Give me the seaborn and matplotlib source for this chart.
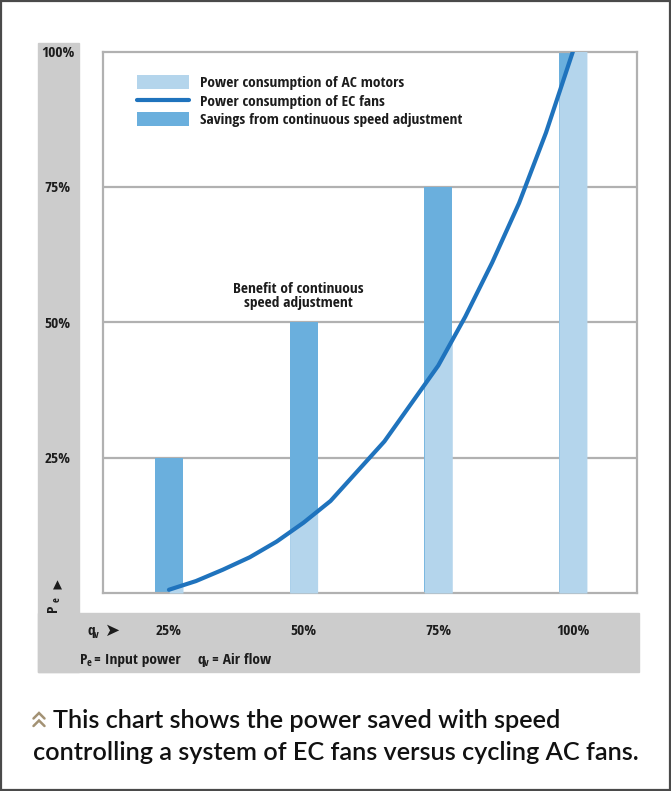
import numpy as np
import pandas as pd
import seaborn as sns
import matplotlib
matplotlib.use("Agg")
import matplotlib.pyplot as plt
from matplotlib import font_manager
from matplotlib.font_manager import FontProperties
from matplotlib.textpath import TextPath
from matplotlib.patches import Rectangle, Patch
from matplotlib.lines import Line2D

# ---- data -------------------------------------------------------------
flow_steps = [25, 50, 75, 100]            # air flow q_v (%)
ac_power = [25, 50, 75, 100]              # AC motor consumption at each step (%)
flow_labels = ["25%", "50%", "75%", "100%"]

ec_flow = [25, 30, 35, 40, 45, 50, 55, 60, 65, 70, 75, 80, 85, 90, 95, 100, 103]   # q_v (%)
ec_power = [0.6, 2.2, 4.3, 6.6, 9.5, 13, 17, 22.5, 28, 35, 42, 51, 61, 72, 85, 100, 108]

power_ticks = [25, 50, 75, 100]
power_labels = ["25%", "50%", "75%", "100%"]

legend_labels = ["Power consumption of AC motors",
                 "Power consumption of EC fans",
                 "Savings from continuous speed adjustment"]
note_text = "Benefit of continuous\nspeed adjustment"
caption_lines = ["This chart shows the power saved with speed",
                 "controlling a system of EC fans versus cycling AC fans."]

# ---- fonts ------------------------------------------------------------
sns.set_theme(style="white")


def _is_bold(w):
    try:
        return int(w) >= 600
    except (TypeError, ValueError):
        return str(w).lower() in ("bold", "semibold", "demibold", "heavy", "extra bold")


def _condensed_bold():
    pref = ["Liberation Sans Narrow", "Noto Sans", "Open Sans", "DejaVu Sans",
            "Roboto", "Lato", "Inter"]
    found = []
    for f in font_manager.fontManager.ttflist:
        narrow = ("condensed" in str(f.stretch).lower() or "narrow" in f.name.lower()
                  or "condensed" in f.name.lower() or "cond" in f.fname.lower().split("/")[-1])
        if narrow and _is_bold(f.weight) and f.style == "normal":
            found.append(f)
    if not found:
        return None
    found.sort(key=lambda f: next((i for i, p in enumerate(pref) if p in f.name), 99))
    return found[0].fname


cond_file = _condensed_bold()


def bold_font(size):
    if cond_file:
        return FontProperties(fname=cond_file, size=size)
    return FontProperties(family=["Roboto", "DejaVu Sans"], weight="bold", size=size)


def text_px(text, prop):
    return TextPath((0, 0), text, prop=prop).get_extents().width * 100 / 72


def fit_size(text, prop, target_px):
    return prop.get_size_in_points() * target_px / text_px(text, prop)


LBL = fit_size(legend_labels[0], bold_font(10), 202)
plt.rcParams["font.family"] = ["Roboto", "DejaVu Sans"]

cap_prop = FontProperties(family=["Lato", "DejaVu Sans"], weight="semibold", size=18)
CAP = fit_size(caption_lines[1], cap_prop, 604)

LIGHT = "#b4d5ec"
MID = "#6aafdd"
LINE = "#1f73bd"
GRID = "#b1b1b1"
PANEL = "#cccccc"
INK = "#1c1c1c"

W, H = 671, 791
fig = plt.figure(figsize=(W / 100, H / 100), dpi=100)


def fx(px):
    return px / W


def fy(py):
    return 1 - py / H


# grey L-shaped label panel (behind the axes)
fig.patches.append(Rectangle((fx(38), fy(672)), fx(79) - fx(38), fy(43) - fy(672),
                             transform=fig.transFigure, color=PANEL, zorder=-2))
fig.patches.append(Rectangle((fx(38), fy(672)), fx(639) - fx(38), fy(613) - fy(672),
                             transform=fig.transFigure, color=PANEL, zorder=-2))
# outer frame
fig.patches.append(Rectangle((0.0015, 0.0015), 0.997, 0.997, transform=fig.transFigure,
                             fill=False, edgecolor="#4a4a4a", linewidth=1.6, zorder=5))

ax = fig.add_axes([fx(103), fy(593), fx(637) - fx(103), fy(51.5) - fy(593)])
ax.set_facecolor("white")

bars = pd.DataFrame({"flow": flow_steps, "power": ac_power})
bar_w = 5.2
sns.barplot(data=bars, x="flow", y="power", native_scale=True, width=bar_w / 25,
            color=MID, saturation=1, ax=ax, zorder=2, linewidth=0)

# share of each bar the EC fan still draws: light fill below the curve
for c, top in zip(flow_steps, ac_power):
    xs = np.linspace(c - bar_w / 2, c + bar_w / 2, 60)
    xs = xs[xs >= ec_flow[0]]
    ys = np.minimum(np.interp(xs, ec_flow, ec_power), top)
    ax.fill_between(xs, 0, ys, color=LIGHT, linewidth=0, zorder=3)

curve = pd.DataFrame({"flow": ec_flow, "power": ec_power})
sns.lineplot(data=curve, x="flow", y="power", color=LINE, linewidth=3.0, ax=ax,
             zorder=4)

ax.set_xlim(12.75, 111.9)
ax.set_ylim(0, 100)
ax.set_xlabel("")
ax.set_ylabel("")

for t in power_ticks[:-1]:
    ax.axhline(t, color=GRID, linewidth=1.6, zorder=1)
for s in ax.spines.values():
    s.set_color(GRID)
    s.set_linewidth(1.6)

ax.set_yticks(power_ticks)
ax.set_yticklabels(power_labels, fontproperties=bold_font(LBL), color=INK, ha="center")
ax.set_xticks(flow_steps)
ax.set_xticklabels(flow_labels, fontproperties=bold_font(LBL), color=INK)
ax.tick_params(axis="y", length=0, pad=32.5)
ax.tick_params(axis="x", length=0, pad=22.5)

# annotation above the 50 % bar
fig.text(fx(298), fy(296), note_text, ha="center", va="center",
         fontproperties=bold_font(LBL), color=INK, linespacing=1.0)

# legend: 52 px swatches, labels starting 11 px after them
handles = [Patch(facecolor=LIGHT, edgecolor="none"),
           Line2D([0], [0], color=LINE, linewidth=3.0),
           Patch(facecolor=MID, edgecolor="none")]
leg = fig.legend(handles, legend_labels, loc="upper left",
                 bbox_to_anchor=(fx(137), fy(75)), bbox_transform=fig.transFigure,
                 frameon=False, prop=bold_font(LBL), handlelength=37.4 / LBL,
                 handleheight=1.05, handletextpad=7.9 / LBL, labelspacing=0.2,
                 borderpad=0, borderaxespad=0)
for t in leg.get_texts():
    t.set_color(INK)


def symbol(x, y, main, sub, rest=""):
    """Bold letter with a small subscript, optionally followed by more text."""
    big = bold_font(LBL)
    small = bold_font(LBL * 0.68)
    fig.text(fx(x), fy(y), main, fontproperties=big, color=INK, ha="left", va="baseline")
    xs = x + text_px(main, big) + 1
    fig.text(fx(xs), fy(y + 2.5), sub, fontproperties=small, color=INK,
             ha="left", va="baseline")
    if rest:
        fig.text(fx(xs + text_px(sub, small) + 3), fy(y), rest, fontproperties=big,
                 color=INK, ha="left", va="baseline")


# axis symbols in the grey panel
fig.text(fx(57), fy(585), "\u25B2", ha="center", va="center", fontsize=8.5, color=INK,
         family="DejaVu Sans")
fig.text(fx(60), fy(612), "P", rotation=90, fontproperties=bold_font(LBL), color=INK,
         ha="right", va="bottom")
fig.text(fx(63), fy(602), "e", rotation=90, fontproperties=bold_font(LBL * 0.68),
         color=INK, ha="right", va="bottom")
symbol(87, 635, "q", "v")
fig.text(fx(105), fy(630.5), "\u27A4", ha="left", va="center", fontsize=13, color=INK,
         family="DejaVu Sans")
symbol(80, 664, "P", "e", "= Input power")
symbol(197, 664, "q", "v", "= Air flow")

# caption with a double-chevron marker
for top in (713, 720.5):
    fig.add_artist(Line2D([fx(33.5), fx(39), fx(44.5)], [fy(top + 5.5), fy(top), fy(top + 5.5)],
                          transform=fig.transFigure, color="#a39274", linewidth=1.8,
                          solid_joinstyle="miter"))
cap_font = FontProperties(family=["Lato", "DejaVu Sans"], weight="semibold", size=CAP)
fig.text(fx(53), fy(721), caption_lines[0], ha="left", va="center",
         fontproperties=cap_font, color="#111111")
fig.text(fx(33), fy(752), caption_lines[1], ha="left", va="center",
         fontproperties=cap_font, color="#111111")

fig.savefig("out.png", dpi=100)
